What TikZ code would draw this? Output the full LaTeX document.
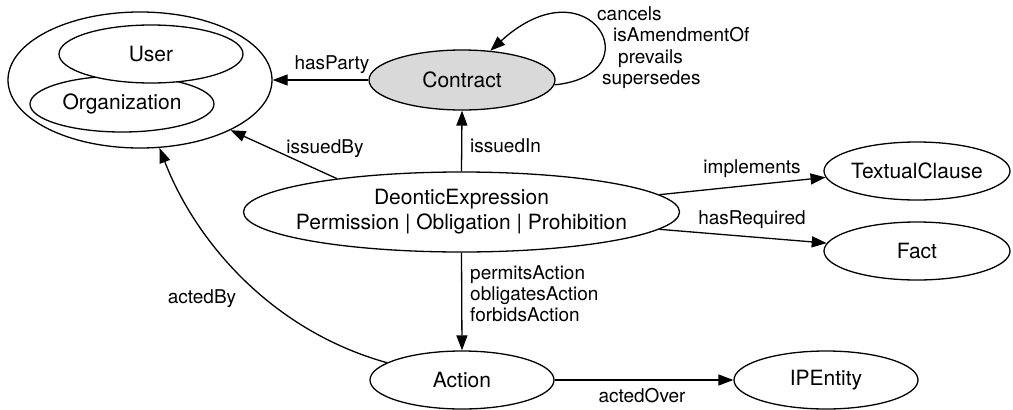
\documentclass[tikz,border=0pt]{standalone}
\usepackage{fontspec}
\setmainfont{TeX Gyre Heros}
\usetikzlibrary{shapes.geometric,arrows.meta}
\newcommand\zw[1]{\makebox[0pt]{#1}}
\begin{document}
\begin{tikzpicture}[x=1pt,y=-1pt,
  ent/.style={ellipse,draw,line width=1.3pt,inner sep=0pt,font=\fontsize{21}{25}\selectfont},
  lbl/.style={font=\fontsize{19}{21.5}\selectfont,inner sep=0pt},
  rel/.style={line width=1.3pt,-{Triangle[length=15pt,width=11pt]}}]
\useasboundingbox (0,0) rectangle (1013,410);
% nodes
\node[ent,minimum width=264pt,minimum height=136pt] (party) at (140,80) {};
\node[ent,minimum width=184pt,minimum height=56pt] (org) at (122,104) {\zw{Organization}};
\node[ent,fill=white,minimum width=184pt,minimum height=58pt] (user) at (151,54) {\zw{User}};
\node[ent,fill=black!15,minimum width=186pt,minimum height=60pt] (contract) at (462,80) {\zw{Contract}};
\node[ent,minimum width=436pt,minimum height=80pt,align=center] (deontic) at (461.5,212) {\zw{DeonticExpression}\\\zw{Permission | Obligation | Prohibition}};
\node[ent,minimum width=186pt,minimum height=58pt] (clause) at (917,171) {\zw{TextualClause}};
\node[ent,minimum width=186pt,minimum height=58pt] (fact) at (917,251) {\zw{Fact}};
\node[ent,minimum width=184pt,minimum height=58pt] (action) at (462,380) {\zw{Action}};
\node[ent,minimum width=184pt,minimum height=58pt] (ip) at (826,380) {\zw{IPEntity}};
% connectors
\draw[rel] (contract.west) -- (party.east);
\draw[rel] (contract.-3) .. controls (655,75) and (590,-40) .. (contract.46);
\draw[rel] (deontic.north) -- (contract.south);
\draw[rel] (deontic.165) -- (party.-29);
\draw[rel] (action.167) .. controls (270,330) and (195,240) .. (party.-74);
\draw[rel] (deontic.south) -- (action.north);
\draw[rel] (action.east) -- (ip.west);
\draw[rel] (deontic.5) -- (clause.184);
\draw[rel] (deontic.-5) -- (fact.175);
% labels
\node[lbl,anchor=base] (lparty) at (332,69) {hasParty};
\node[lbl,anchor=base west] (lloop) at (597,20) {\begin{tabular}[t]{@{}l@{}}cancels\\\hspace*{16pt}isAmendmentOf\\\hspace*{21pt}prevails\\\hspace*{5pt}supersedes\end{tabular}};
\node[lbl,anchor=base west] (lin) at (470,152) {issuedIn};
\node[lbl,anchor=base] (lby) at (325,153) {issuedBy};
\node[lbl,anchor=base] (lacted) at (202,303) {actedBy};
\node[lbl,anchor=base west,font=\fontsize{19}{21}\selectfont] (lperm) at (470,279) {\begin{tabular}[t]{@{}l@{}}permitsAction\\obligatesAction\\forbidsAction\end{tabular}};
\node[lbl,anchor=base] (limpl) at (752,173) {implements};
\node[lbl,anchor=base] (lreq) at (752,224) {hasRequired};
\node[lbl,anchor=base] (lover) at (642,402) {actedOver};
\end{tikzpicture}
\end{document}
